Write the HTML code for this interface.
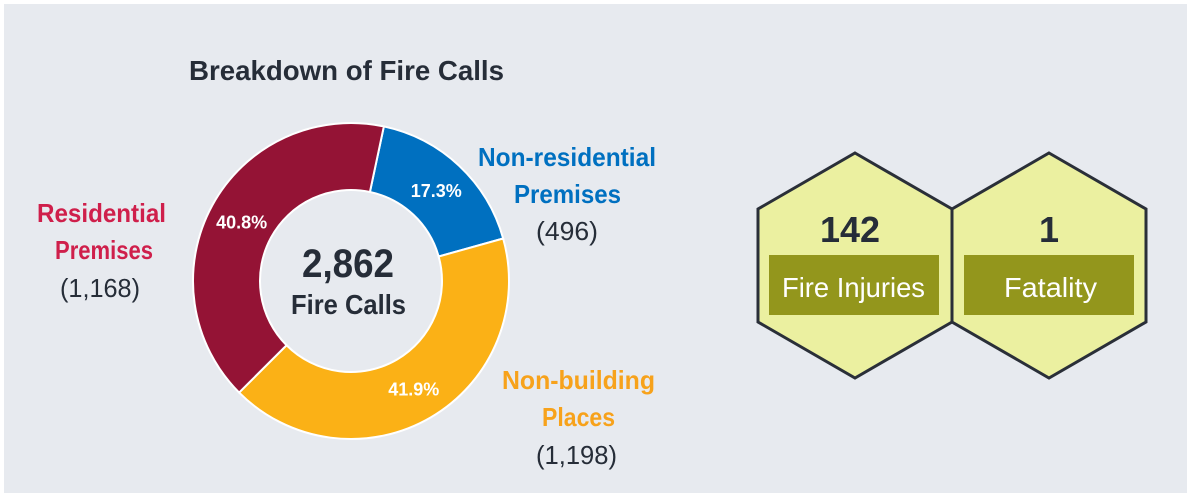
<!DOCTYPE html>
<html><head><meta charset="utf-8">
<style>
html,body{margin:0;padding:0;background:#fff;width:1191px;height:497px;overflow:hidden}
svg{display:block}
text{font-family:"Liberation Sans Narrow","Liberation Sans",sans-serif}
</style></head><body>
<svg id="chart" width="1191" height="497" viewBox="0 0 1191 497">
<rect x="4" y="4" width="1183" height="489" fill="#e7eaef"/>
<text x="189" y="80" font-size="28" font-weight="bold" fill="#262d38" textLength="315" lengthAdjust="spacingAndGlyphs">Breakdown of Fire Calls</text>
<g id="donut"></g>
<text x="302" y="277" font-size="40" font-weight="bold" fill="#262d38" textLength="92" lengthAdjust="spacingAndGlyphs">2,862</text>
<text x="291" y="314" font-size="28" font-weight="bold" fill="#262d38" textLength="115" lengthAdjust="spacingAndGlyphs">Fire Calls</text>

<g>
<text x="37" y="222" font-size="26" font-weight="bold" fill="#cf1f4b" textLength="129" lengthAdjust="spacingAndGlyphs">Residential</text>
<text x="55" y="259" font-size="26" font-weight="bold" fill="#cf1f4b" textLength="98" lengthAdjust="spacingAndGlyphs">Premises</text>
<text x="60" y="297" font-size="26" fill="#262d38" textLength="80" lengthAdjust="spacingAndGlyphs">(1,168)</text>
</g>
<g>
<text x="478" y="166" font-size="26" font-weight="bold" fill="#0070c0" textLength="178" lengthAdjust="spacingAndGlyphs">Non-residential</text>
<text x="514" y="203" font-size="26" font-weight="bold" fill="#0070c0" textLength="107" lengthAdjust="spacingAndGlyphs">Premises</text>
<text x="536" y="240" font-size="26" fill="#262d38" textLength="62" lengthAdjust="spacingAndGlyphs">(496)</text>
</g>
<g>
<text x="502" y="389" font-size="26" font-weight="bold" fill="#f7a21b" textLength="153" lengthAdjust="spacingAndGlyphs">Non-building</text>
<text x="542" y="426" font-size="26" font-weight="bold" fill="#f7a21b" textLength="73" lengthAdjust="spacingAndGlyphs">Places</text>
<text x="536" y="464" font-size="26" fill="#262d38" textLength="81" lengthAdjust="spacingAndGlyphs">(1,198)</text>
</g>

<g>
<polygon points="855,153 952,209 952,322 855,378 758,322 758,209" fill="#ebf0a0" stroke="#2a2f38" stroke-width="3"/>
<text x="820" y="242" font-size="36" font-weight="bold" fill="#262d38" textLength="60" lengthAdjust="spacingAndGlyphs">142</text>
<rect x="769" y="255" width="170" height="60" fill="#93961c"/>
<text x="782" y="297" font-size="28" fill="#fff" textLength="143" lengthAdjust="spacingAndGlyphs">Fire Injuries</text>
</g>
<g>
<polygon points="1049,153 1146,209 1146,322 1049,378 952,322 952,209" fill="#ebf0a0" stroke="#2a2f38" stroke-width="3"/>
<text x="1049" y="242" text-anchor="middle" font-size="36" font-weight="bold" fill="#262d38">1</text>
<rect x="964" y="255" width="170" height="60" fill="#93961c"/>
<text x="1004" y="297" font-size="28" fill="#fff" textLength="93" lengthAdjust="spacingAndGlyphs">Fatality</text>
</g>
</svg>
<script>
const categories = ["Non-residential Premises", "Non-building Places", "Residential Premises"];
const values = [496, 1198, 1168];
const pctLabels = ["17.3%", "41.9%", "40.8%"];
const colors = ["#0070c0", "#fbb116", "#941335"];

const cx = 351, cy = 281, R = 158, r = 91, startDeg = 12;
const total = values.reduce((a, b) => a + b, 0);
const ns = "http://www.w3.org/2000/svg";
const g = document.getElementById("donut");
function pt(rad, deg) { const a = (deg - 90) * Math.PI / 180; return [cx + rad * Math.cos(a), cy + rad * Math.sin(a)]; }
let acc = startDeg;
values.forEach((v, i) => {
  const sweep = v / total * 360;
  const a0 = acc, a1 = acc + sweep;
  const large = sweep > 180 ? 1 : 0;
  const p1 = pt(R, a0), p2 = pt(R, a1), p3 = pt(r, a1), p4 = pt(r, a0);
  const path = document.createElementNS(ns, "path");
  path.setAttribute("d", `M${p1[0]},${p1[1]} A${R},${R} 0 ${large} 1 ${p2[0]},${p2[1]} L${p3[0]},${p3[1]} A${r},${r} 0 ${large} 0 ${p4[0]},${p4[1]} Z`);
  path.setAttribute("fill", colors[i]);
  path.setAttribute("stroke", "#ffffff");
  path.setAttribute("stroke-width", "2");
  
  
  g.appendChild(path);
  const mid = pt((R + r) / 2, (a0 + a1) / 2);
  const t = document.createElementNS(ns, "text");
  t.setAttribute("x", mid[0]);
  t.setAttribute("y", mid[1] + 7);
  t.setAttribute("text-anchor", "middle");
  t.setAttribute("font-size", "18");
  t.setAttribute("font-weight", "bold");
  t.setAttribute("fill", "#ffffff");
  t.setAttribute("style", 'font-family:"Liberation Sans",sans-serif');
  t.textContent = pctLabels[i];
  
  
  g.appendChild(t);
  acc = a1;
});
</script>
</body></html>
